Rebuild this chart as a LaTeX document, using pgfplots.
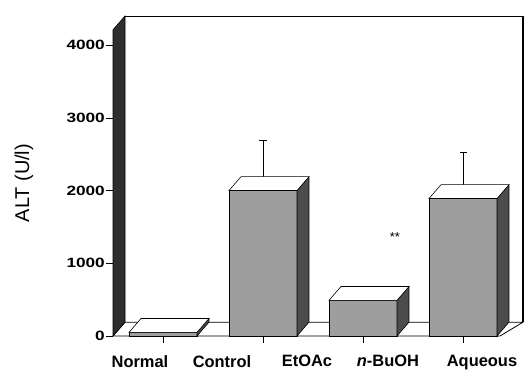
\documentclass[border=0pt]{standalone}
\usepackage{fontspec}
\setmainfont{Liberation Sans}
\newfontfamily\tickfont[FakeStretch=1.28]{Liberation Sans}
\usepackage{pgfplots}
\usepackage{pgfplotstable}
\pgfplotsset{compat=1.18}
\definecolor{frontgray}{gray}{0.62}
\definecolor{sidegray}{gray}{0.30}
\definecolor{wallgray}{gray}{0.18}

\pgfplotstableread{
x y err
1 50 0
2 2000 690
3 490 110
4 1890 637
}\datatab

% 3D top and side faces of a bar, drawn at the bar's data point
\pgfdeclareplotmark{box3d}{%
  \pgfmathsetmacro\hh{\barval*0.0727273*1.00375}%
  \pgfmathsetmacro\ylow{13.9-\hh}%
  \pgfsetlinewidth{0.6pt}%
  \pgfsetstrokecolor{black}%
  % side face
  \pgfsetfillcolor{sidegray}%
  \pgfpathmoveto{\pgfpoint{34.13pt}{0pt}}%
  \pgfpathlineto{\pgfpoint{46.17pt}{13.9pt}}%
  \pgfpathlineto{\pgfpoint{46.17pt}{\ylow pt}}%
  \pgfpathlineto{\pgfpoint{34.13pt}{-\hh pt}}%
  \pgfpathclose
  \pgfusepath{fill,stroke}%
  % top face
  \pgfsetfillcolor{white}%
  \pgfpathmoveto{\pgfpoint{-34.13pt}{0pt}}%
  \pgfpathlineto{\pgfpoint{34.13pt}{0pt}}%
  \pgfpathlineto{\pgfpoint{46.17pt}{13.9pt}}%
  \pgfpathlineto{\pgfpoint{-22.09pt}{13.9pt}}%
  \pgfpathclose
  \pgfusepath{fill,stroke}%
}

\begin{document}
\begin{tikzpicture}
\useasboundingbox (0,0) rectangle (526bp,370bp);
\begin{axis}[
  at={(113bp,34bp)}, anchor=south west,
  width=410bp, height=320bp, scale only axis,
  xmin=0.5, xmax=4.6, ymin=0, ymax=4400,
  clip=false,
  axis x line*=bottom, axis y line*=left,
  axis line style={draw=none},
  tick align=outside,
  major tick length=7bp,
  tick style={black, line width=0.6pt},
  ytick={0,1000,2000,3000,4000},
  /pgf/number format/assume math mode=true,
  /pgf/number format/set thousands separator={},
  yticklabel style={font=\tickfont\bfseries\fontsize{13.5}{13.5}\selectfont, inner sep=1pt},
  xtick={1,2,3,4},
  xticklabels={,,,},
  extra x ticks={0.77,1.59,2.44,3.25,4.19},
  extra x tick labels={Normal,Control,EtOAc,\textit{n}-BuOH,Aqueous},
  extra x tick style={major tick length=0pt},
  xticklabel style={font=\bfseries\fontsize{16.5}{16.5}\selectfont, yshift=-16bp},
  every axis y label/.style={at={(axis description cs:-0.217,0.478)}, rotate=90, anchor=center, font=\fontsize{20}{20}\selectfont},
  ylabel={ALT (U/l)},
]
% back plane
\draw[black, line width=0.5pt] (axis cs:0.62,4400) -- (axis cs:4.6,4400);
\draw[black, line width=1.4pt] (axis cs:4.6,4400) -- (axis cs:4.6,190);
% floor
\filldraw[fill=white, draw=black, line width=0.8pt] (axis cs:0.5,0) -- (axis cs:4.37,0) -- (axis cs:4.6,190) -- (axis cs:0.62,190) -- cycle;
% left wall
\filldraw[fill=wallgray, draw=black, line width=0.6pt] (axis cs:0.5,0) -- (axis cs:0.5,4210) -- (axis cs:0.62,4400) -- (axis cs:0.62,190) -- cycle;

% bars: front faces
\addplot[ybar, bar width=0.68, fill=frontgray, draw=black, line width=0.6pt] table[x=x, y=y] {\datatab};
% bars: top and side faces
\addplot[only marks, mark=box3d, visualization depends on={\thisrow{y} \as \barval}] table[x=x, y=y] {\datatab};
% error bars
\addplot[draw=none, mark=none, restrict x to domain=1.5:4.5,
  error bars/.cd, y dir=plus, y explicit,
  error bar style={black, line width=0.6pt},
  error mark options={rotate=90, mark size=3.5bp, black, line width=0.6pt}]
  table[x=x, y=y, y error=err] {\datatab};

\node[font=\fontsize{13}{13}\selectfont] at (axis cs:3.32,1360) {**};
\end{axis}
\end{tikzpicture}
\end{document}
